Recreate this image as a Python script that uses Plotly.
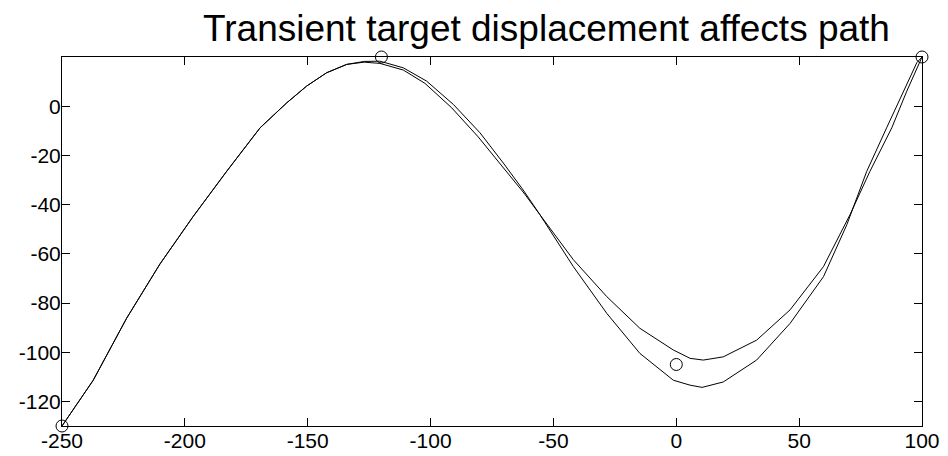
import plotly.graph_objects as go

# Shared initial portion (both paths coincide)
shared_x = [-250, -237.3, -223.7, -210.1, -196.6, -183.0, -169.4, -158.5, -150.4, -142.3, -134.1]
shared_y = [-130, -111.4, -86.2, -64.1, -44.8, -26.5, -8.8, 1.4, 8.2, 13.6, 17.0]

# Path A (deeper minimum)
pathA_x = shared_x + [-127.0, -120.6, -111.1, -101.6, -90.7, -79.9, -70.4, -62.0, -55.5, -41.9, -28.3,
                      -14.8, -1.2, 5.6, 10.5, 19.1, 32.7, 46.3, 59.9, 69.4, 77.5, 85.6, 92.4, 97.9, 100]
pathA_y = shared_y + [18.2, 18.3, 15.6, 10.2, 0.7, -10.8, -23.1, -34.5, -44.1, -65.2, -84.2,
                      -100.5, -111.4, -113.4, -114.3, -112.1, -103.2, -88.3, -69.3, -48.2, -26.5, -8.8, 6.1, 17.7, 20]

# Path B (shallower minimum)
pathB_x = shared_x + [-127.0, -120.6, -111.1, -102.3, -91.4, -80.6, -71.0, -62.0, -55.5, -41.9, -28.3,
                      -14.8, -1.2, 5.6, 11.0, 19.1, 32.7, 46.3, 59.9, 70.7, 78.8, 87.7, 93.8, 98.9, 100]
pathB_y = shared_y + [17.9, 17.4, 14.7, 9.3, -0.65, -12.5, -24.4, -35.3, -44.1, -62.4, -77.4,
                      -90.3, -99.1, -102.5, -103.2, -101.9, -95.1, -82.8, -65.2, -44.1, -26.5, -8.8, 6.1, 17.7, 20]

# Targets (circles)
target_x = [-250, -120, 0, 100]
target_y = [-130, 20, -105, 20]

x_ticks = [-250, -200, -150, -100, -50, 0, 50, 100]
x_ticktext = ["-250", "-200", "-150", "-100", "-50", "0", "50", "100"]
y_ticks = [-120, -100, -80, -60, -40, -20, 0]
y_ticktext = ["-120", "-100", "-80", "-60", "-40", "-20", "0"]

title_text = "Transient target displacement affects path"

fig = go.Figure()
fig.add_trace(go.Scatter(x=pathA_x, y=pathA_y, mode="lines",
                         line=dict(color="black", width=1), cliponaxis=False, showlegend=False))
fig.add_trace(go.Scatter(x=pathB_x, y=pathB_y, mode="lines",
                         line=dict(color="black", width=1), cliponaxis=False, showlegend=False))
fig.add_trace(go.Scatter(x=target_x, y=target_y, mode="markers",
                         marker=dict(symbol="circle-open", size=12, color="black", line=dict(width=1)),
                         cliponaxis=False, showlegend=False))

axis_common = dict(showline=True, linecolor="black", linewidth=1, mirror="ticks",
                   ticks="inside", ticklen=8, tickcolor="black", tickwidth=1,
                   showgrid=False, zeroline=False, automargin=False,
                   tickfont=dict(family="Liberation Sans, Arial, sans-serif", size=21, color="black"))

fig.update_layout(
    template="none",
    width=948, height=456,
    margin=dict(l=62, r=26, t=57, b=30, autoexpand=False),
    paper_bgcolor="white", plot_bgcolor="white",
    xaxis=dict(range=[-250, 100], tickvals=x_ticks, ticktext=x_ticktext, ticklabelstandoff=-4, **axis_common),
    yaxis=dict(range=[-130, 20], tickvals=y_ticks, ticktext=y_ticktext, ticklabelstandoff=-4, **axis_common),
    annotations=[dict(text=title_text, xref="paper", yref="paper", x=0.5636, y=1.0,
                      xanchor="center", yanchor="bottom", yshift=6, showarrow=False,
                      font=dict(family="Liberation Sans, Arial, sans-serif", size=37, color="black"))],
)

# Remove the default 8px page margin so the figure fills the window exactly.
fig.write_html("out.html", config={"displayModeBar": False},
               post_script="document.body.style.margin='0';")
